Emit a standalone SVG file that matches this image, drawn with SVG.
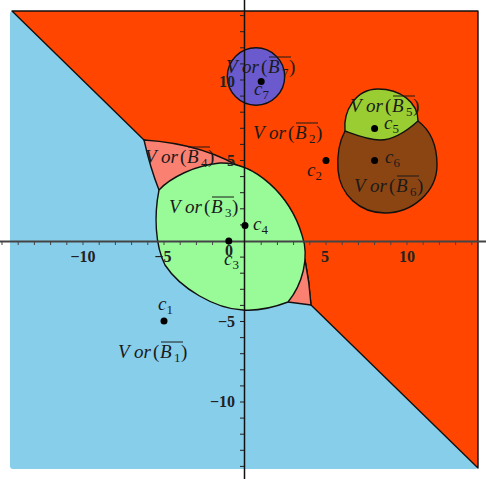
<svg xmlns="http://www.w3.org/2000/svg" width="486" height="479" viewBox="0 0 486 479">
<style>
.rg{stroke:#111;stroke-width:1.4;stroke-linejoin:round}
.m{font-family:"Liberation Serif",serif;font-size:19px;fill:#1a1a1a}
.i{font-style:italic}
.s{font-size:13px}
.t{font-family:"Liberation Serif",serif;font-size:16px;font-weight:bold;fill:#222}
.ol{stroke:#1a1a1a;stroke-width:1}
.pt{fill:#000}
</style>
<rect width="486" height="479" fill="#fff"/>
<g id="regions">
<rect id="B1" x="10" y="11" width="468" height="458" rx="3" fill="#87CEEB"/>
<path id="B2" class="rg" fill="#FF4500" d="M12,11 L478,11 L478,468 L311,305 C310,290 308,275 305,260 L250,170 L144,140 Z"/>
<path id="B4" class="rg" fill="#FA8072" d="M144,140 C175,142 215,150 248,172 L200,200 L160,200 L159,190 C153,175 148,158 144,140 Z"/>
<path id="B4b" class="rg" fill="#FA8072" d="M300,250 L305,260 C308,275 310,290 311,305 L288,302 Z"/>
<path id="B3" class="rg" fill="#98FB98" d="M159,190 C170,178 195,165 220,163 C255,162 290,195 302,235 C310,258 302,285 288,302 C275,307 258,311 243,310 C215,309 180,288 165,265 C155,245 154,215 159,190 Z"/>
<path id="B6" class="rg" fill="#8B4513" d="M345,131 C340,140 337,155 338,170 C340,195 360,213 385,213 C412,213 437,192 437,165 C437,145 430,130 418,121 Z"/>
<path id="B5" class="rg" fill="#9ACD32" d="M345,131 C343,112 355,89 378,89 C400,89 418,102 418,121 C408,130 395,140 380,140 C368,140 356,135 345,131 Z"/>
<circle id="B7" class="rg" cx="256" cy="76.5" r="28.7" fill="#6A5ACD"/>
</g>
<g id="axes" fill="none">
<line x1="0" y1="241.5" x2="486" y2="241.5" stroke="#444" stroke-width="1.8"/>
<line x1="244.5" y1="0" x2="244.5" y2="479" stroke="#111" stroke-width="1.5"/>
<path stroke="#444" stroke-width="1" d="M2,241v4M18.2,241v4M34.4,241v4M50.6,241v4M66.8,241v4M83,241v4M99.2,241v4M115.4,241v4M131.6,241v4M147.8,241v4M164,241v4M180.2,241v4M196.4,241v4M212.6,241v4M228.8,241v4M261.2,241v4M277.4,241v4M293.6,241v4M309.8,241v4M326,241v4M342.2,241v4M358.4,241v4M374.6,241v4M390.8,241v4M407,241v4M423.2,241v4M439.4,241v4M455.6,241v4M471.8,241v4"/>
<path stroke="#222" stroke-width="1" d="M240,15.6h4M240,31.7h4M240,47.8h4M240,63.9h4M240,80h4M240,96.1h4M240,112.2h4M240,128.3h4M240,144.4h4M240,160.5h4M240,176.6h4M240,192.7h4M240,208.8h4M240,224.9h4M240,257.1h4M240,273.2h4M240,289.3h4M240,305.4h4M240,321.5h4M240,337.6h4M240,353.7h4M240,369.8h4M240,385.9h4M240,402h4M240,418.1h4M240,434.2h4M240,450.3h4M240,466.4h4"/>
<g class="t" text-anchor="middle">
<text x="83" y="262">−10</text>
<text x="163" y="262">−5</text>
<text x="229" y="256">0</text>
<text x="325" y="262">5</text>
<text x="407" y="262">10</text>
</g>
<g class="t" text-anchor="end">
<text x="235" y="87">10</text>
<text x="235" y="166">5</text>
<text x="235" y="327">−5</text>
<text x="235" y="407">−10</text>
</g>
</g>
<g id="points">
<circle class="pt" cx="164" cy="321" r="3.5"/>
<circle class="pt" cx="326" cy="160.5" r="3.5"/>
<circle class="pt" cx="228.8" cy="241" r="3.5"/>
<circle class="pt" cx="245" cy="225.5" r="3.5"/>
<circle class="pt" cx="374.6" cy="128.5" r="3.5"/>
<circle class="pt" cx="374.6" cy="160.5" r="3.5"/>
<circle class="pt" cx="261.2" cy="81.5" r="3.5"/>
</g>
<g id="point-labels">
<text class="m"><tspan class="i" x="158" y="310">c</tspan><tspan class="s" x="166.5" y="314">1</tspan></text>
<text class="m"><tspan class="i" x="307" y="176">c</tspan><tspan class="s" x="315.5" y="180">2</tspan></text>
<text class="m"><tspan class="i" x="224" y="265">c</tspan><tspan class="s" x="232.5" y="269">3</tspan></text>
<text class="m"><tspan class="i" x="253" y="230">c</tspan><tspan class="s" x="261.5" y="234">4</tspan></text>
<text class="m"><tspan class="i" x="384" y="129">c</tspan><tspan class="s" x="392.5" y="133">5</tspan></text>
<text class="m"><tspan class="i" x="385" y="163">c</tspan><tspan class="s" x="393.5" y="167">6</tspan></text>
<text class="m"><tspan class="i" x="254" y="95">c</tspan><tspan class="s" x="262.5" y="99">7</tspan></text>
</g>
<g id="region-labels">
<g id="lab7"><text class="m"><tspan class="i" x="226" y="73">V</tspan><tspan class="i" x="242" y="73">or</tspan><tspan x="261" y="73">(</tspan><tspan class="i" x="268" y="73">B</tspan><tspan class="s" x="282" y="77">7</tspan><tspan x="289" y="73">)</tspan></text><line class="ol" x1="269" y1="57" x2="291" y2="57"/></g>
<g id="lab2"><text class="m"><tspan class="i" x="253" y="139">V</tspan><tspan class="i" x="269" y="139">or</tspan><tspan x="288" y="139">(</tspan><tspan class="i" x="295" y="139">B</tspan><tspan class="s" x="309" y="143">2</tspan><tspan x="316" y="139">)</tspan></text><line class="ol" x1="296" y1="123" x2="318" y2="123"/></g>
<g id="lab5"><text class="m"><tspan class="i" x="350" y="112">V</tspan><tspan class="i" x="366" y="112">or</tspan><tspan x="385" y="112">(</tspan><tspan class="i" x="392" y="112">B</tspan><tspan class="s" x="406" y="116">5</tspan><tspan x="413" y="112">)</tspan></text><line class="ol" x1="393" y1="96" x2="415" y2="96"/></g>
<g id="lab6"><text class="m"><tspan class="i" x="354" y="192">V</tspan><tspan class="i" x="370" y="192">or</tspan><tspan x="389" y="192">(</tspan><tspan class="i" x="396" y="192">B</tspan><tspan class="s" x="410" y="196">6</tspan><tspan x="417" y="192">)</tspan></text><line class="ol" x1="397" y1="176" x2="419" y2="176"/></g>
<g id="lab4"><text class="m"><tspan class="i" x="145" y="163">V</tspan><tspan class="i" x="161" y="163">or</tspan><tspan x="180" y="163">(</tspan><tspan class="i" x="187" y="163">B</tspan><tspan class="s" x="201" y="167">4</tspan><tspan x="208" y="163">)</tspan></text><line class="ol" x1="188" y1="147" x2="210" y2="147"/></g>
<g id="lab3"><text class="m"><tspan class="i" x="169" y="213">V</tspan><tspan class="i" x="185" y="213">or</tspan><tspan x="204" y="213">(</tspan><tspan class="i" x="211" y="213">B</tspan><tspan class="s" x="225" y="217">3</tspan><tspan x="232" y="213">)</tspan></text><line class="ol" x1="212" y1="197" x2="234" y2="197"/></g>
<g id="lab1"><text class="m"><tspan class="i" x="118" y="358">V</tspan><tspan class="i" x="134" y="358">or</tspan><tspan x="153" y="358">(</tspan><tspan class="i" x="160" y="358">B</tspan><tspan class="s" x="174" y="362">1</tspan><tspan x="181" y="358">)</tspan></text><line class="ol" x1="161" y1="342" x2="183" y2="342"/></g>
</g>
</svg>
